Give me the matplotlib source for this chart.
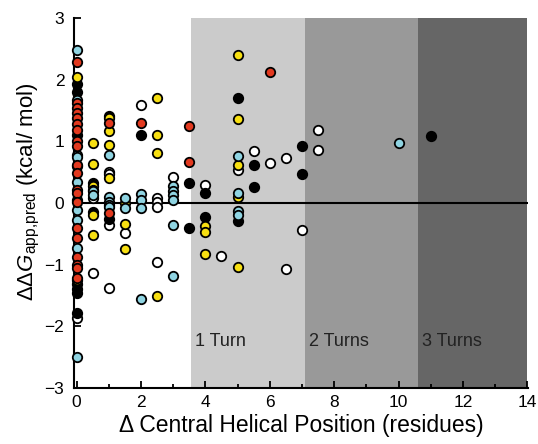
import matplotlib
matplotlib.use('Agg')
import matplotlib.pyplot as plt
from matplotlib.ticker import MultipleLocator

plt.rcParams['font.family'] = ['Liberation Sans', 'DejaVu Sans']
plt.rcParams['mathtext.fontset'] = 'custom'
plt.rcParams['mathtext.rm'] = 'Liberation Sans'
plt.rcParams['mathtext.it'] = 'Liberation Sans:italic'

# helical turn boundaries (residues) and region labels
turn_edges = [3.55, 7.1, 10.6, 14.0]
turn_colors = ['#cbcbcb', '#999999', '#666666']
turn_labels = ['1 Turn', '2 Turns', '3 Turns']

# data points by colour
red_x = [0]*20 + [1, 1, 2, 3.5, 3.5, 6]
red_y = [2.29, 1.62, 1.55, 1.47, 1.38, 1.28, 1.18, 1.0, 0.92, 0.62, 0.49, 0.21, 0.16, 0.02,
         -0.41, -0.57, -0.88, -1.0, -1.06, -1.22,
         1.30, -0.16, 1.30, 1.25, 0.66, 2.13]

cyan_x = [0]*10 + [0.5]*2 + [1]*5 + [1.5]*2 + [2]*4 + [3]*6 + [5]*4 + [10]
cyan_y = [2.48, 1.68, 0.78, 0.75, 0.6, 0.34, -0.11, -0.28, -0.73, -2.49,
          0.2, 0.14,
          0.78, 0.1, 0.02, -0.03, -0.06,
          0.09, -0.08,
          0.15, 0.05, -0.08, -1.55,
          0.28, 0.2, 0.14, 0.05, -0.35, -1.19,
          0.76, 0.17, -0.12, -0.19,
          0.98]

yellow_x = [0]*2 + [0.5]*6 + [1]*4 + [1.5]*3 + [2.5]*4 + [4]*3 + [5]*5
yellow_y = [2.05, -1.25,
            0.98, 0.63, 0.28, 0.22, -0.19, -0.52,
            1.38, 1.17, 0.95, 0.40,
            0.0, -0.34, -0.75,
            1.70, 1.10, 0.82, -1.50,
            -0.37, -0.47, -0.83,
            2.40, 1.37, 0.62, 0.10, -1.03]

black_x = [0]*7 + [0.5]*2 + [1]*2 + [2] + [3.5]*2 + [4]*2 + [5]*2 + [5.5]*2 + [7]*2 + [11]
black_y = [1.94, 1.80, 1.10, -1.32, -1.40, -1.45, -1.78,
           0.33, -0.14,
           1.41, -0.25,
           1.10,
           0.32, -0.40,
           0.17, -0.22,
           1.71, -0.29,
           0.62, 0.26,
           0.93, 0.48,
           1.09]

white_x = [0]*2 + [0.5]*2 + [1]*4 + [1.5, 2] + [2.5]*4 + [3, 4, 4.5, 5, 5.5, 6] + [6.5]*2 + [7] + [7.5]*2
white_y = [-1.86, 0.05,
           0.08, -1.13,
           0.51, 0.47, -0.36, -1.38,
           -0.49, 1.59,
           0.09, 0.02, -0.07, -0.96,
           0.42, 0.29, -0.85, 0.53, 0.85, 0.65,
           0.73, -1.07,
           -0.43,
           1.19, 0.87]

fig = plt.figure(figsize=(5.38, 4.44), dpi=100)
ax = fig.add_axes([0.1375, 0.126, 0.844, 0.833])

for i in range(3):
    ax.axvspan(turn_edges[i], turn_edges[i+1], color=turn_colors[i], lw=0, zorder=0)
    ax.text(turn_edges[i] + 0.12, -2.25, turn_labels[i], fontsize=13, color='#222222',
            va='center', ha='left', zorder=1)

ax.axhline(0, color='black', lw=1.5, zorder=2)

series = [(white_x, white_y, 'white'), (black_x, black_y, 'black'),
          (yellow_x, yellow_y, '#f7df12'), (cyan_x, cyan_y, '#8fd4e2'),
          (red_x, red_y, '#e2391f')]
for xs, ys, c in series:
    ax.plot(xs, ys, 'o', ms=6.8, mfc=c, mec='black', mew=1.3, zorder=3, clip_on=False)

ax.set_xlim(-0.08, 14.02)
ax.set_ylim(-3, 3)
ax.spines['top'].set_visible(False)
ax.spines['right'].set_visible(False)
ax.spines['left'].set_linewidth(1.5)
ax.spines['bottom'].set_linewidth(1.5)
ax.xaxis.set_major_locator(MultipleLocator(2))
ax.xaxis.set_minor_locator(MultipleLocator(1))
ax.yaxis.set_major_locator(MultipleLocator(1))
ax.tick_params(direction='in', length=5, width=1.3, labelsize=12.5)
ax.tick_params(which='minor', direction='in', length=3, width=1.3)
ax.tick_params(axis='y', pad=7)
ax.tick_params(axis='x', pad=5)

ax.set_xlabel('Δ Central Helical Position (residues)', fontsize=16.5, labelpad=3)
ax.set_ylabel(r'ΔΔ$G_{\mathrm{app{,}pred}}$ (kcal/ mol)', fontsize=16, labelpad=2)
ax.yaxis.label.set_y(0.53)

fig.savefig('out.png', dpi=100)
